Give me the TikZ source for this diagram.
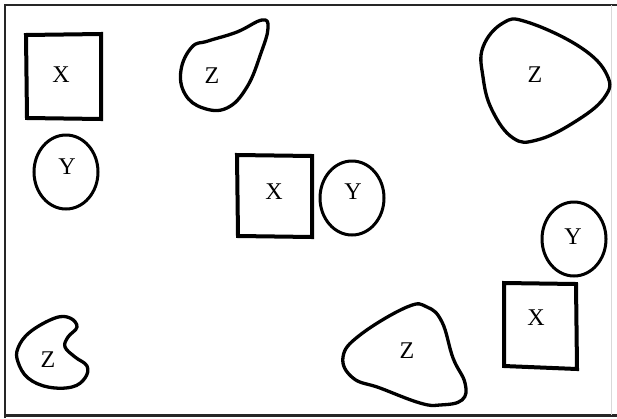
\documentclass[tikz,border=0pt]{standalone}
\usepackage{fontspec}
\setmainfont{Liberation Serif}
\begin{document}
\begin{tikzpicture}[x=1pt,y=-1pt,
  shapeline/.style={line width=3.3pt,line join=round},
  boxline/.style={line width=4pt,line join=miter},
  ovalline/.style={line width=3pt},
  lbl/.style={font=\fontsize{24}{24}\selectfont,inner sep=0pt}]
\useasboundingbox (0,0) rectangle (617,418);
% frame
\draw[line width=2.6pt,color=black!85] (5,418) -- (5,5) -- (617,5);
\draw[line width=2.6pt,color=black!85] (5,415.5) -- (617,415.5);
\draw[line width=1pt,color=black!15] (611,5) -- (611,415);
% squares X
\draw[boxline] (26,35) -- (101,34) -- (101,119) -- (27,118) -- cycle;
\draw[boxline] (237,155) -- (312,156) -- (312,237) -- (238,236) -- cycle;
\draw[boxline] (504,283) -- (576,284) -- (577,369) -- (504,366) -- cycle;
% ellipses Y
\draw[ovalline] (66,172) ellipse [x radius=32, y radius=37];
\draw[ovalline] (352,198) ellipse [x radius=32, y radius=37];
\draw[ovalline] (574,239) ellipse [x radius=32, y radius=37];
% blobs Z
\draw[shapeline] plot[smooth cycle,tension=0.7] coordinates {(181,70) (192,47) (208,41) (237,32) (262,20) (268,28) (261,53) (247,87) (227,108) (203,108) (185,94)};
\draw[shapeline] plot[smooth cycle,tension=0.7] coordinates {(483,47) (503,23) (527,22) (580,47) (607,75) (604,98) (573,123) (537,140) (513,138) (492,110) (483,77)};
\draw[shapeline] plot[smooth cycle,tension=0.7] coordinates {(343,357) (360,335) (407,307) (427,307) (442,322) (453,358) (465,383) (462,400) (440,405) (420,403) (380,388) (353,378)};
\draw[shapeline] plot[smooth cycle,tension=0.65] coordinates {(18,348) (30,332) (55,318) (70,318) (77,327) (68,337) (65,347) (75,357) (87,366) (85,378) (72,387) (48,387) (28,378) (18,362)};
% labels
\node[lbl] (x1) at (61,75) {X};
\node[lbl] (y1) at (67,167) {Y};
\node[lbl] (z1) at (212,76) {Z};
\node[lbl] (x2) at (274,192) {X};
\node[lbl] (y2) at (353,192) {Y};
\node[lbl] (z2) at (535,75) {Z};
\node[lbl] (y3) at (573,237) {Y};
\node[lbl] (x3) at (536,318) {X};
\node[lbl] (z3) at (407,351) {Z};
\node[lbl] (z4) at (48,360) {Z};
\end{tikzpicture}
\end{document}
